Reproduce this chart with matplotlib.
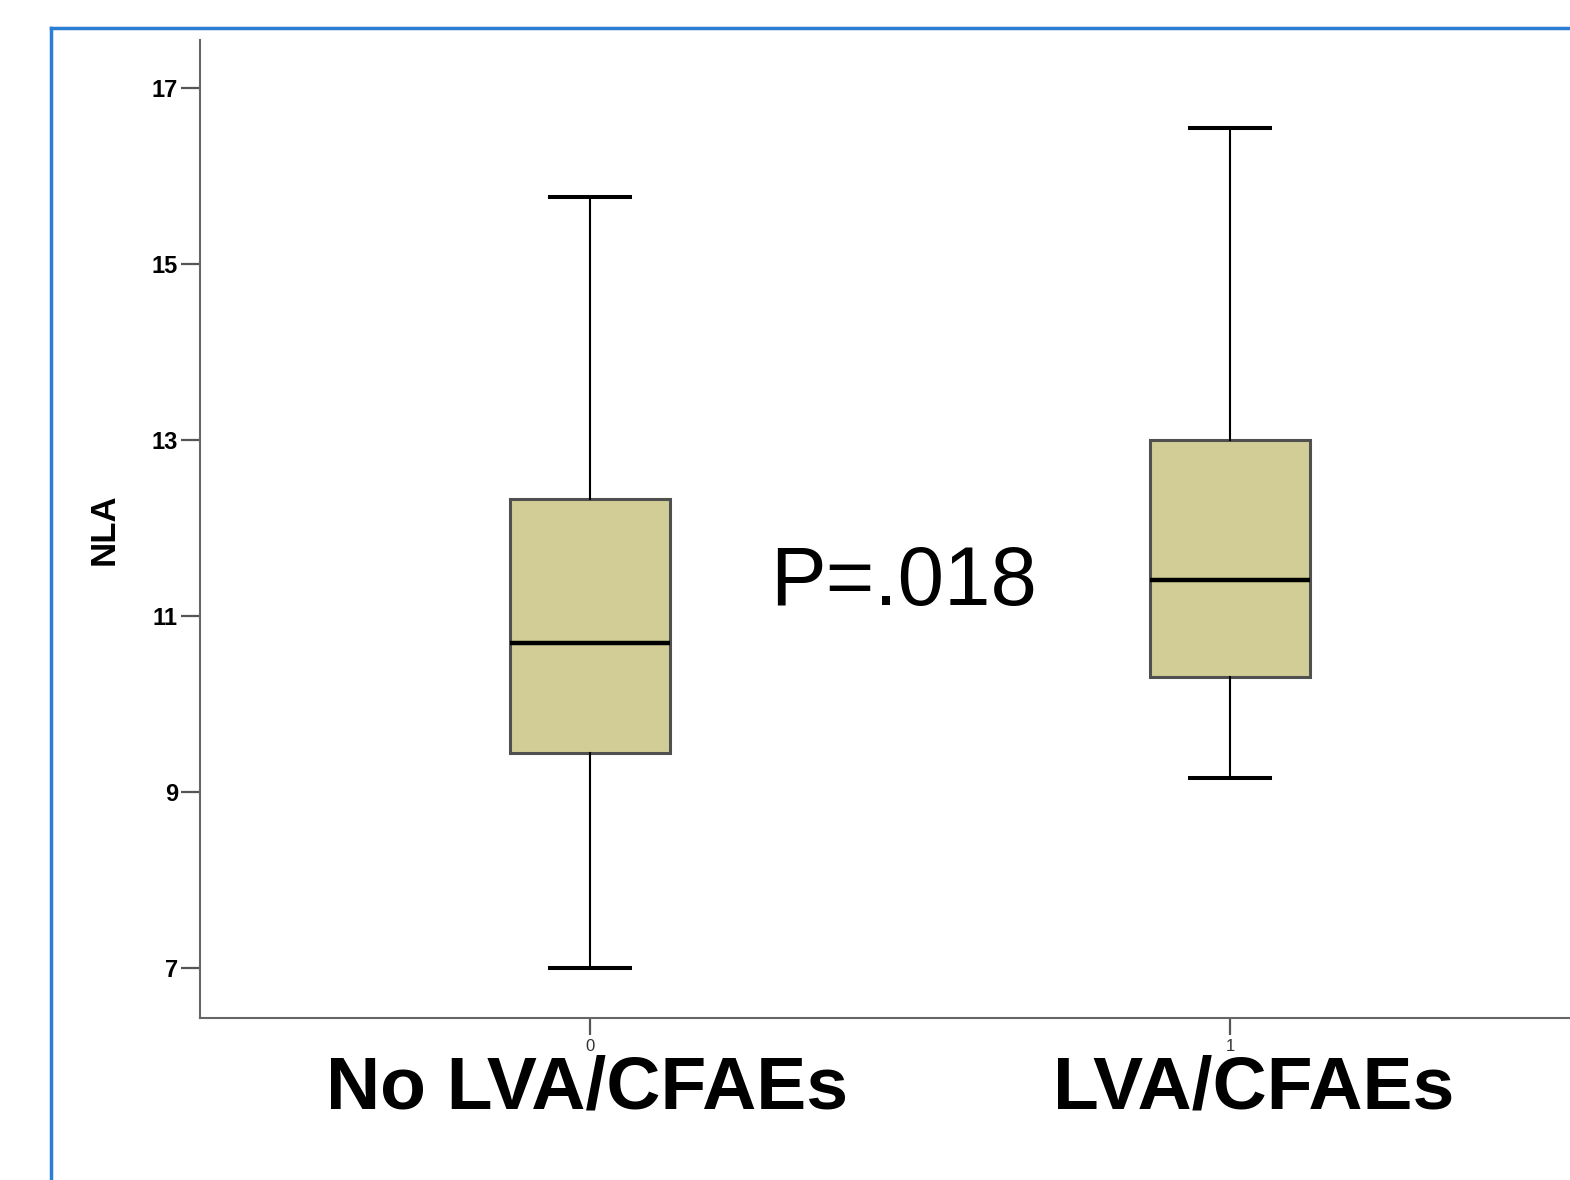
import matplotlib.pyplot as plt
from matplotlib.lines import Line2D

plt.rcParams['font.family'] = ['Liberation Sans', 'DejaVu Sans']

# box plot summary values
groups = ["0", "1"]
group_names = ["No LVA/CFAEs", "LVA/CFAEs"]
whis_low = [7.0, 9.16]
q1 = [9.44, 10.31]
median = [10.69, 11.41]
q3 = [12.33, 13.0]
whis_high = [15.76, 16.55]
y_ticks = [7, 9, 11, 13, 15, 17]
p_text = "P=.018"

W, H = 1570, 1180
fig = plt.figure(figsize=(W / 100, H / 100), dpi=100)
ax = fig.add_axes([200 / W, (H - 1018) / H, 1 - 200 / W, (1018 - 40) / H])

stats = []
for i in range(len(groups)):
    stats.append(dict(whislo=whis_low[i], q1=q1[i], med=median[i],
                      q3=q3[i], whishi=whis_high[i], fliers=[], label=groups[i]))

ax.bxp(stats, positions=[0, 1], widths=0.25, patch_artist=True,
       showfliers=False,
       boxprops=dict(facecolor="#d2cd97", edgecolor="#505050", linewidth=2.2),
       medianprops=dict(color="black", linewidth=3.2),
       whiskerprops=dict(color="black", linewidth=1.5),
       capprops=dict(color="black", linewidth=2.9),
       capwidths=0.125)

ax.set_xlim(-0.609, 1.531)
ax.set_ylim(6.43, 17.55)
ax.set_yticks(y_ticks)
ax.set_yticklabels([str(t) for t in y_ticks], fontsize=17, fontweight="bold")
ax.tick_params(axis="y", length=14, width=1.6, color="#555555", pad=2)
ax.tick_params(axis="x", length=12, width=1.6, color="#555555", pad=3,
               labelsize=12, labelcolor="#333333")
ax.set_xticks([0, 1])
ax.set_xticklabels(groups)

for s in ["top", "right"]:
    ax.spines[s].set_visible(False)
for s in ["left", "bottom"]:
    ax.spines[s].set_color("#666666")
    ax.spines[s].set_linewidth(1.5)

ax.set_ylabel("NLA", fontsize=25, fontweight="bold", labelpad=22)

ax.text(0.49, 11.38, p_text, fontsize=60, ha="center", va="center")

# group names under the axis (the right one sits a bit right of its tick)
name_x = [-0.005, 1.037]
for i, name in enumerate(group_names):
    xf = ax.transData.transform((name_x[i], 0))[0] / W
    fig.text(xf, (H - 1108) / H, name, fontsize=54, fontweight="bold",
             ha="center", va="baseline")

# blue frame around the slide panel
fx = 51 / W
fy = (H - 28) / H
fig.add_artist(Line2D([fx, fx], [0, fy], color="#2a7fd4", linewidth=2.5,
                      transform=fig.transFigure))
fig.add_artist(Line2D([fx, 1], [fy, fy], color="#2a7fd4", linewidth=2.5,
                      transform=fig.transFigure))

fig.savefig("out.png", dpi=100)
